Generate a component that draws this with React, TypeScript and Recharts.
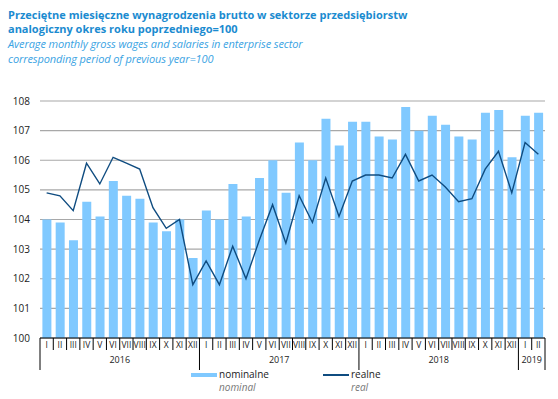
import { ComposedChart, Bar, Line, XAxis, YAxis, CartesianGrid } from 'recharts';

const months = ['I', 'II', 'III', 'IV', 'V', 'VI', 'VII', 'VIII', 'IX', 'X', 'XI', 'XII',
  'I', 'II', 'III', 'IV', 'V', 'VI', 'VII', 'VIII', 'IX', 'X', 'XI', 'XII',
  'I', 'II', 'III', 'IV', 'V', 'VI', 'VII', 'VIII', 'IX', 'X', 'XI', 'XII',
  'I', 'II'];
const years = ['2016', '2016', '2016', '2016', '2016', '2016', '2016', '2016', '2016', '2016', '2016', '2016',
  '2017', '2017', '2017', '2017', '2017', '2017', '2017', '2017', '2017', '2017', '2017', '2017',
  '2018', '2018', '2018', '2018', '2018', '2018', '2018', '2018', '2018', '2018', '2018', '2018',
  '2019', '2019'];
const nominal = [104.0, 103.9, 103.3, 104.6, 104.1, 105.3, 104.8, 104.7, 103.9, 103.6, 104.0, 102.7,
  104.3, 104.0, 105.2, 104.1, 105.4, 106.0, 104.9, 106.6, 106.0, 107.4, 106.5, 107.3,
  107.3, 106.8, 106.7, 107.8, 107.0, 107.5, 107.2, 106.8, 106.7, 107.6, 107.7, 106.1,
  107.5, 107.6];
const real = [104.9, 104.8, 104.3, 105.9, 105.2, 106.1, 105.9, 105.7, 104.4, 103.7, 104.0, 101.8,
  102.6, 101.8, 103.1, 102.0, 103.3, 104.5, 103.2, 104.8, 103.9, 105.4, 104.1, 105.3,
  105.5, 105.5, 105.4, 106.2, 105.3, 105.5, 105.1, 104.6, 104.7, 105.7, 106.3, 104.9,
  106.6, 106.2];
const yTicks = [100, 101, 102, 103, 104, 105, 106, 107, 108];

const data = months.map((m, i) => ({ m, year: years[i], nominal: nominal[i], real: real[i] }));

const W = 558;
const H = 399;
const X_H = 30;
const margin = { top: 101, right: 13, bottom: 61 - X_H, left: 0 };
const Y_W = 40;
const BAND = (W - margin.right - Y_W) / months.length;
const FONT = '"Open Sans", sans-serif';

const MonthTick = (props: any) => {
  const { x, y, payload } = props;
  const i = payload.index;
  const left = x - BAND / 2;
  const yearStart = i === 0 || years[i] !== years[i - 1];
  const last = i === months.length - 1;
  let yearLabel = null;
  if (yearStart) {
    const n = years.filter((v) => v === years[i]).length;
    yearLabel = (
      <text x={left + (n * BAND) / 2} y={y + 25} textAnchor="middle" fontSize={9} fill="#222" fontFamily={FONT}>
        {years[i]}
      </text>
    );
  }
  return (
    <g>
      <line x1={left} x2={left} y1={y} y2={yearStart ? y + 32 : y + 12} stroke="#000" strokeWidth={1} />
      {last && <line x1={x + BAND / 2} x2={x + BAND / 2} y1={y} y2={y + 32} stroke="#000" strokeWidth={1} />}
      <text x={x} y={y + 10} textAnchor="middle" fontSize={8.5} fill="#222" fontFamily={FONT}>
        {months[i]}
      </text>
      {yearLabel}
    </g>
  );
};

const line = (top: number, extra: any) => ({
  position: 'absolute' as const, left: 8, top, fontSize: 11, lineHeight: '12px', height: 12, whiteSpace: 'nowrap' as const, ...extra,
});
const titleStyle = { color: '#1b8bd0', fontWeight: 700, letterSpacing: 0 };
const subStyle = { color: '#3aa3e3', fontStyle: 'italic', letterSpacing: -0.1 };

export default function App() {
  return (
    <div style={{ position: 'absolute', left: 0, top: 0, width: W, height: H, background: '#fff', fontFamily: FONT }}>
      <div style={line(9, titleStyle)}>Przeciętne miesięczne wynagrodzenia brutto w sektorze przedsiębiorstw</div>
      <div style={line(23, titleStyle)}>analogiczny okres roku poprzedniego=100</div>
      <div style={line(38, subStyle)}>Average monthly gross wages and salaries in enterprise sector</div>
      <div style={line(53, subStyle)}>corresponding period of previous year=100</div>
      <ComposedChart width={W} height={H} data={data} margin={margin} barCategoryGap="18%">
        <CartesianGrid vertical={false} stroke="#a8a8a8" strokeWidth={1.2} />
        <XAxis dataKey="m" height={X_H} interval={0} tickLine={false} tickSize={0} tickMargin={0} axisLine={{ stroke: '#000' }} tick={<MonthTick />} />
        <YAxis width={Y_W} domain={[100, 108]} ticks={yTicks} axisLine={false} tickLine={false} tickMargin={4}
          tick={{ fontSize: 10, fill: '#222', fontFamily: FONT }} />
        <Bar dataKey="nominal" fill="#80c9ff" isAnimationActive={false} />
        <Line dataKey="real" type="linear" stroke="#0f4c80" strokeWidth={1.4} dot={false} isAnimationActive={false} />
      </ComposedChart>
      <div style={{ position: 'absolute', left: 191, top: 373, width: 26, height: 4, background: '#80c9ff' }} />
      <div style={{ position: 'absolute', left: 219, top: 368, fontSize: 10, lineHeight: '13px', color: '#222' }}>nominalne</div>
      <div style={{ position: 'absolute', left: 219, top: 381, fontSize: 10, lineHeight: '13px', color: '#777', fontStyle: 'italic' }}>nominal</div>
      <div style={{ position: 'absolute', left: 323, top: 374, width: 26, height: 1.5, background: '#0f4c80' }} />
      <div style={{ position: 'absolute', left: 351, top: 368, fontSize: 10, lineHeight: '13px', color: '#222' }}>realne</div>
      <div style={{ position: 'absolute', left: 351, top: 381, fontSize: 10, lineHeight: '13px', color: '#777', fontStyle: 'italic' }}>real</div>
    </div>
  );
}
